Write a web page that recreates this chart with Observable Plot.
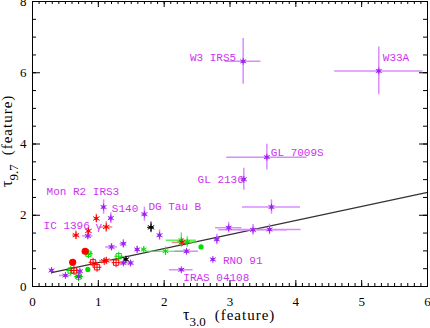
<!DOCTYPE html>
<html>
<head>
<meta charset="utf-8">
<script src="https://cdn.jsdelivr.net/npm/d3@7"></script>
<script src="https://cdn.jsdelivr.net/npm/@observablehq/plot@0.6"></script>
<style>
  html, body { margin: 0; padding: 0; background: #fff; }
  svg { display: block; }
</style>
</head>
<body>
<div id="chart"></div>
<script>
// ---- data ----
// purple / magenta sources: tau3.0, tau9.7 and their errors
const purpleX    = [3.20, 5.26, 3.56, 3.21, 1.08, 1.19, 1.70, 0.84, 2.74, 2.26, 2.98, 3.35, 3.60, 3.63, 2.80, 2.34, 1.93, 1.20, 1.38, 1.59, 1.38, 1.49, 0.29, 0.50, 0.70, 0.72];
const purpleY    = [6.32, 6.05, 3.63, 3.01, 2.23, 1.92, 2.03, 1.42, 0.76, 0.47, 1.65, 1.59, 1.60, 2.23, 1.32, 0.99, 1.44, 1.11, 1.20, 1.04, 0.66, 0.66, 0.45, 0.31, 0.28, 0.43];
const purpleXErr = [0.27, 0.67, 0.61, 0.04, 0.03, 0.03, 0.04, 0.08, 0.02, 0.18, 0.20, 0.52, 0.48, 0.44, 0.04, 0.18, 0.03, 0.09, 0.05, 0.03, 0.05, 0.05, 0.03, 0.09, 0.04, 0.04];
const purpleYErr = [0.64, 0.67, 0.36, 0.31, 0.20, 0.15, 0.20, 0.10, 0.03, 0.03, 0.15, 0.15, 0.15, 0.20, 0.15, 0.05, 0.15, 0.10, 0.12, 0.10, 0.06, 0.06, 0.05, 0.03, 0.05, 0.05];

// labels (index into purple arrays)
const labelNames = ["W3 IRS5", "W33A", "GL 7009S", "GL 2136", "Mon R2 IRS3", "S140", "DG Tau B", "IC 1396", "RNO 91", "IRAS 04108", "γ"];
const labelIndex = [0, 1, 2, 3, 4, 5, 6, 7, 8, 9, 7];

// red sources
const redStarX    = [0.66, 0.85, 0.97, 1.12, 1.12, 1.09, 2.27];
const redStarY    = [1.44, 1.56, 1.91, 1.67, 0.73, 0.71, 1.24];
const redStarXErr = [0.05, 0.03, 0.03, 0.10, 0.10, 0.04, 0.15];
const redStarYErr = [0.12, 0.08, 0.12, 0.15, 0.08, 0.05, 0.10];
const redSqX  = [0.63, 0.92, 0.98, 1.27];
const redSqY  = [0.45, 0.68, 0.54, 0.67];
const redDotX = [0.61, 0.80];
const redDotY = [0.68, 0.99];

// green sources
const greenSqX  = [0.58, 0.85, 1.31, 0.70];
const greenSqY  = [0.45, 0.92, 0.85, 0.28];
const greenDotX = [0.84, 2.56];
const greenDotY = [0.48, 1.11];
const greenX    = [1.69, 2.02, 2.26, 2.35, 0.85];
const greenY    = [1.04, 0.99, 1.30, 1.25, 0.92];
const greenXErr = [0.03, 0.30, 0.23, 0.15, 0.03];
const greenYErr = [0.08, 0.12, 0.20, 0.15, 0.08];

// black sources
const blackX    = [1.80, 1.42];
const blackY    = [1.66, 0.76];
const blackXErr = [0.05, 0.03];
const blackYErr = [0.15, 0.05];

// fitted relation
const fitX = [0.29, 6.0];
const fitY = [0.39, 2.64];

// tick values
const xMajorTicks = [0, 1, 2, 3, 4, 5, 6];
const yMajorTicks = [0, 2, 4, 6, 8];
const xMinorTicks = d3.range(0, 60.5, 1).map(d => d / 10);
const yMinorTicks = d3.range(0, 16.5, 1).map(d => d / 2);

// axis titles
const xTitle = ["τ", "3.0", "(feature)"];
const yTitle = ["τ", "9.7", "(feature)"];

// ---- layout ----
const W = 430, H = 328;
const mL = 32, mR = 3, mT = 1, mB = 42;
const plotH = H - mT - mB;
const plotW = W - mL - mR;

const PURPLE = "#a020f0", PBAR = "#d98cff", PTEXT = "#cc33ee";
const RED = "#ff0000", RBAR = "#ff8080";
const GREEN = "#00dd00", GBAR = "#33ee33";

const idx = n => d3.range(n);

function errBars(X, Y, XE, YE, color, sw) {
  return [
    Plot.ruleX(idx(X.length), {x: i => X[i], y1: i => Y[i] - YE[i], y2: i => Y[i] + YE[i], stroke: color, strokeWidth: sw, clip: "frame"}),
    Plot.ruleY(idx(X.length), {y: i => Y[i], x1: i => X[i] - XE[i], x2: i => X[i] + XE[i], stroke: color, strokeWidth: sw, clip: "frame"})
  ];
}

const labelOffsets = {
  "W3 IRS5":     {dx: -7, dy: -4, anchor: "end"},
  "W33A":        {dx: 4, dy: -14, anchor: "start"},
  "GL 7009S":    {dx: 4, dy: -5, anchor: "start"},
  "GL 2136":     {dx: 0, dy: 0, anchor: "end"},
  "Mon R2 IRS3": {dx: -57, dy: -16, anchor: "start"},
  "S140":        {dx: 1, dy: -10, anchor: "start"},
  "DG Tau B":    {dx: 4, dy: -8, anchor: "start"},
  "IC 1396":     {dx: 2, dy: -10, anchor: "end"},
  "RNO 91":      {dx: 10, dy: 1, anchor: "start"},
  "IRAS 04108":  {dx: 2, dy: 8, anchor: "start"},
  "γ":           {dx: 11, dy: -9, anchor: "middle"}
};

const labelMarks = labelNames.map((name, k) => {
  const o = labelOffsets[name];
  const i = labelIndex[k];
  return Plot.text([name], {
    x: () => purpleX[i], y: () => purpleY[i], text: d => d,
    dx: o.dx, dy: o.dy, textAnchor: o.anchor,
    fill: PTEXT, fontSize: 11, fontFamily: "Liberation Mono, DejaVu Sans Mono, monospace"
  });
});

const serif = "Liberation Serif, DejaVu Serif, serif";

const chart = Plot.plot({
  width: W, height: H,
  marginLeft: mL, marginRight: mR, marginTop: mT, marginBottom: mB,
  style: {background: "#fff", overflow: "hidden"},
  x: {domain: [0, 6]},
  y: {domain: [0, 8]},
  marks: [
    // inward ticks on all four sides
    Plot.tickX(xMinorTicks, {x: d => d, insetTop: plotH - 3, stroke: "#000"}),
    Plot.tickX(xMinorTicks, {x: d => d, insetBottom: plotH - 3, stroke: "#000"}),
    Plot.tickX(xMajorTicks, {x: d => d, insetTop: plotH - 6, stroke: "#000"}),
    Plot.tickX(xMajorTicks, {x: d => d, insetBottom: plotH - 6, stroke: "#000"}),
    Plot.tickY(yMinorTicks, {y: d => d, insetRight: plotW - 4, stroke: "#000"}),
    Plot.tickY(yMinorTicks, {y: d => d, insetLeft: plotW - 4, stroke: "#000"}),
    Plot.tickY(yMajorTicks, {y: d => d, insetRight: plotW - 8, stroke: "#000"}),
    Plot.tickY(yMajorTicks, {y: d => d, insetLeft: plotW - 8, stroke: "#000"}),
    Plot.axisX(xMajorTicks, {tickSize: 0, tickPadding: 10, fontSize: 13, fontFamily: serif, fill: "#000", label: null}),
    Plot.axisY(yMajorTicks, {tickSize: 0, tickPadding: 6, fontSize: 13, fontFamily: serif, fill: "#000", label: null}),
    // fit line
    Plot.line(idx(fitX.length), {x: i => fitX[i], y: i => fitY[i], stroke: "#333", strokeWidth: 1.2}),
    // error bars
    ...errBars(purpleX, purpleY, purpleXErr, purpleYErr, PBAR, 1.5),
    ...errBars(redStarX, redStarY, redStarXErr, redStarYErr, RBAR, 1.5),
    ...errBars(greenX, greenY, greenXErr, greenYErr, GBAR, 1.2),
    ...errBars(blackX, blackY, blackXErr, blackYErr, "#000", 1),
    // green symbols
    Plot.dot(idx(greenSqX.length), {x: i => greenSqX[i], y: i => greenSqY[i], symbol: "square", r: 3, stroke: GREEN, strokeWidth: 1}),
    Plot.dot(idx(greenSqX.length), {x: i => greenSqX[i], y: i => greenSqY[i], symbol: "plus", r: 3, stroke: GREEN, strokeWidth: 1}),
    Plot.dot(idx(greenDotX.length), {x: i => greenDotX[i], y: i => greenDotY[i], r: 2.6, fill: GREEN}),
    Plot.dot(idx(greenX.length), {x: i => greenX[i], y: i => greenY[i], symbol: "asterisk", r: 3, stroke: GREEN, strokeWidth: 1}),
    // red symbols
    Plot.dot(idx(redSqX.length), {x: i => redSqX[i], y: i => redSqY[i], symbol: "square", r: 3, stroke: RED, strokeWidth: 1}),
    Plot.dot(idx(redSqX.length), {x: i => redSqX[i], y: i => redSqY[i], symbol: "plus", r: 3, stroke: RED, strokeWidth: 1}),
    Plot.dot(idx(redDotX.length), {x: i => redDotX[i], y: i => redDotY[i], r: 3.6, fill: RED}),
    Plot.dot(idx(redStarX.length), {x: i => redStarX[i], y: i => redStarY[i], symbol: "asterisk", r: 3.5, stroke: RED, strokeWidth: 1}),
    Plot.dot(idx(redStarX.length), {x: i => redStarX[i], y: i => redStarY[i], symbol: "square", r: 1.5, fill: RED}),
    // black symbols
    Plot.dot(idx(blackX.length), {x: i => blackX[i], y: i => blackY[i], symbol: "asterisk", r: 3.5, stroke: "#000", strokeWidth: 1}),
    Plot.dot(idx(blackX.length), {x: i => blackX[i], y: i => blackY[i], symbol: "square", r: 1.4, fill: "#000"}),
    // purple symbols
    Plot.dot(idx(purpleX.length), {x: i => purpleX[i], y: i => purpleY[i], symbol: "asterisk", r: 3.2, stroke: PURPLE, strokeWidth: 1}),
    Plot.dot(idx(purpleX.length), {x: i => purpleX[i], y: i => purpleY[i], symbol: "square", r: 1.7, fill: PURPLE}),
    // labels
    ...labelMarks,
    Plot.frame({stroke: "#000", strokeWidth: 1})
  ]
});

// axis titles with subscripts (real text)
const svg = d3.select(chart);
function title(parts, transform) {
  const t = svg.append("text")
    .attr("transform", transform)
    .attr("text-anchor", "start")
    .attr("font-family", serif)
    .attr("fill", "#000");
  t.append("tspan").attr("font-size", 16).text(parts[0]);
  t.append("tspan").attr("font-size", 13).attr("dy", 6).text(parts[1]);
  t.append("tspan").attr("font-size", 15).attr("dy", -6).attr("dx", 9)
    .attr("letter-spacing", 1).text(parts[2]);
}
title(xTitle, "translate(183,320)");
title(yTitle, "translate(12,187) rotate(-90)");

document.getElementById("chart").appendChild(chart);
</script>
</body>
</html>
